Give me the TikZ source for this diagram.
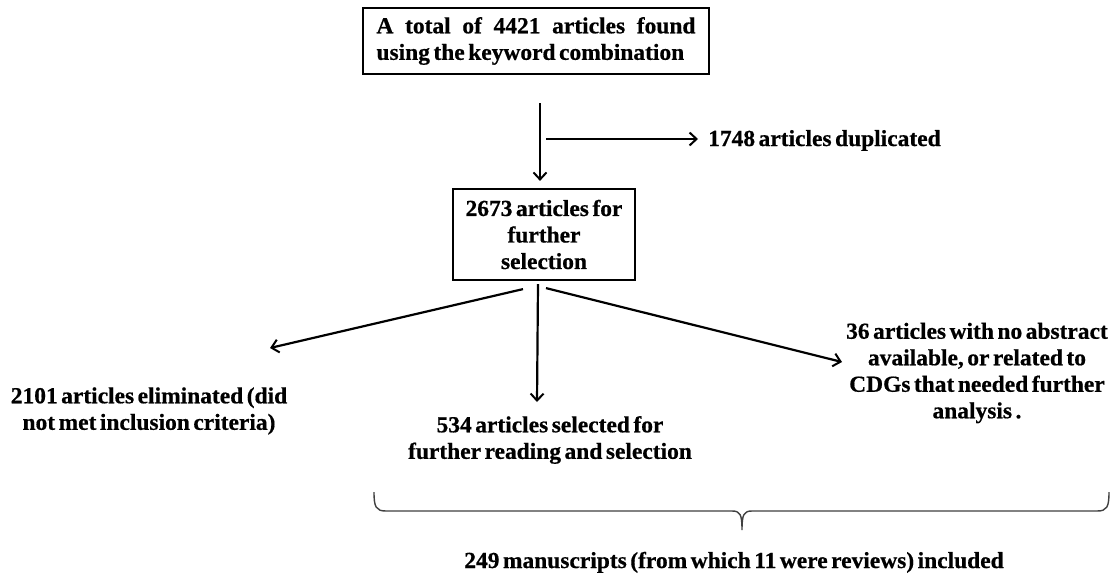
\documentclass[tikz,border=0pt]{standalone}
\usepackage{fontspec}
\setmainfont{Liberation Serif}[FakeStretch=1.02,WordSpace=0.6,FakeBold=0.6]
\usetikzlibrary{arrows.meta}
\begin{document}
\begin{tikzpicture}[x=1pt,y=-1pt,
  txt/.style={font=\fontsize{23pt}{26.5pt}\selectfont\bfseries, inner sep=0pt, align=center},
  box/.style={txt, draw, line width=2.2pt},
  arr/.style={line width=2.2pt, -{Straight Barb[length=7pt,width=13pt,line width=2pt]}},
  brc/.style={line width=1.4pt, draw=black!75}
]
\useasboundingbox (0,0) rectangle (1112,579);
\fill[white] (0,0) rectangle (1112,579);

% boxes
\node[box, align=left, inner xsep=13.5pt, minimum width=346pt, minimum height=66pt] (top) at (536,41)
  {\makebox[319pt][s]{A total of 4421 articles found}\\using the keyword combination};
\node[box, minimum width=182pt, minimum height=91pt] (sel) at (544,234.5)
  {2673 articles for\\further\\selection};

% labels
\node[txt, anchor=base west] (dup) at (708,146) {1748 articles duplicated};
\node[txt] (elim) at (149,411) {2101 articles eliminated (did\\not met inclusion criteria)};
\node[txt] (read) at (550,440) {534 articles selected for\\further reading and selection};
\node[txt] (noabs) at (977,373) {36 articles with no abstract\\available, or related to\\CDGs that needed further\\analysis .};
\node[txt, anchor=base] (incl) at (734,568) {249 manuscripts (from which 11 were reviews) included};

% connector endpoints
\coordinate (v1) at (540,103);
\coordinate (h1) at (546,139);
\coordinate (lS) at ([xshift=-21pt,yshift=-8pt]sel.south);
\coordinate (mS) at ([xshift=-6pt,yshift=-3pt]sel.south);
\coordinate (rS) at ([xshift=2pt,yshift=-7pt]sel.south);
\coordinate (lE) at (270,348);
\coordinate (mE) at (537,402);
\coordinate (rE) at (842,362);

% connectors
\draw[arr, shorten >=7pt] (v1) -- (v1 |- sel.north);
\draw[arr, shorten >=10pt] (h1) -- (h1 -| dup.west);
\draw[arr] (lS) -- (lE);
\draw[arr] (mS) -- (mE);
\draw[arr] (rS) -- (rE);

% brace
\coordinate (bL) at (374,492);
\coordinate (bT) at (742,530);
\coordinate (bR) at (1109,492);
\draw[brc] (bL) .. controls (374,507) and (376,511) .. (386,511)
  -- (732,511) .. controls (740,511) and (742,514) .. (bT)
  (bT) .. controls (742,514) and (744,511) .. (752,511)
  -- (1097,511) .. controls (1107,511) and (1109,507) .. (bR);
\end{tikzpicture}
\end{document}
